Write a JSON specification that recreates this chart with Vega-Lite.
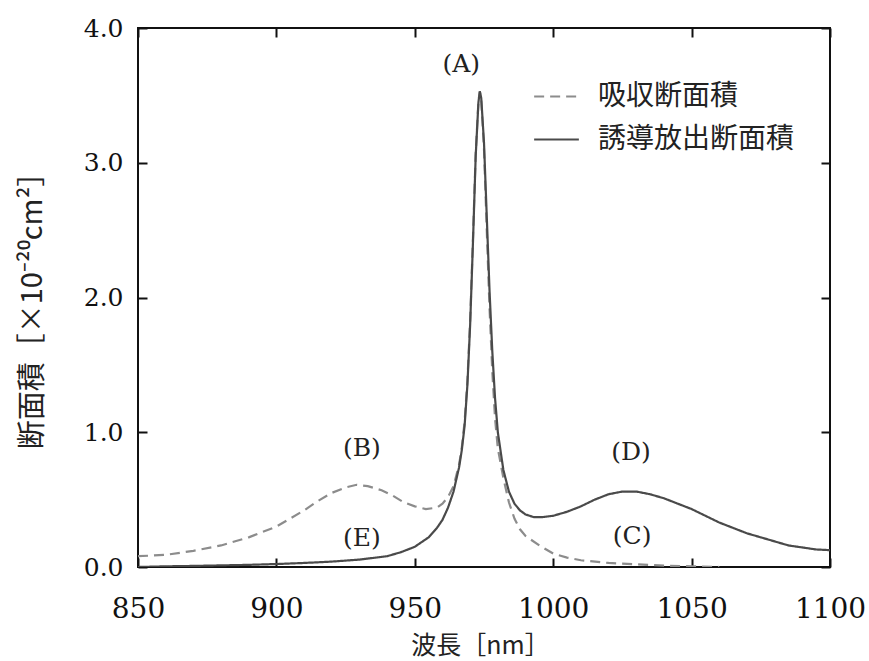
{
  "$schema": "https://vega.github.io/schema/vega-lite/v6.json",
  "width": 692,
  "height": 539,
  "autosize": "none",
  "padding": {"left": 138, "top": 28, "right": 39, "bottom": 94},
  "background": "white",
  "config": {
    "view": {"stroke": "#111", "strokeWidth": 2},
    "axis": {"grid": false, "domain": false, "tickColor": "#111", "tickWidth": 2, "tickSize": -9, "labelColor": "#111", "labelFont": "DejaVu Serif", "labelFlush": false, "labelOverlap": false, "titleFont": "Noto Sans CJK JP", "titleFontWeight": "normal", "titleColor": "#222"}
  },
  "datasets": {
    "curves": [
      {"wl": 850, "v": 0.08, "s": "吸収断面積"},
      {"wl": 860, "v": 0.09, "s": "吸収断面積"},
      {"wl": 870, "v": 0.12, "s": "吸収断面積"},
      {"wl": 880, "v": 0.16, "s": "吸収断面積"},
      {"wl": 890, "v": 0.22, "s": "吸収断面積"},
      {"wl": 900, "v": 0.30, "s": "吸収断面積"},
      {"wl": 910, "v": 0.42, "s": "吸収断面積"},
      {"wl": 915, "v": 0.49, "s": "吸収断面積"},
      {"wl": 920, "v": 0.55, "s": "吸収断面積"},
      {"wl": 925, "v": 0.59, "s": "吸収断面積"},
      {"wl": 929, "v": 0.61, "s": "吸収断面積"},
      {"wl": 933, "v": 0.60, "s": "吸収断面積"},
      {"wl": 938, "v": 0.57, "s": "吸収断面積"},
      {"wl": 942, "v": 0.53, "s": "吸収断面積"},
      {"wl": 946, "v": 0.48, "s": "吸収断面積"},
      {"wl": 950, "v": 0.45, "s": "吸収断面積"},
      {"wl": 954, "v": 0.43, "s": "吸収断面積"},
      {"wl": 958, "v": 0.44, "s": "吸収断面積"},
      {"wl": 960, "v": 0.47, "s": "吸収断面積"},
      {"wl": 962, "v": 0.52, "s": "吸収断面積"},
      {"wl": 964, "v": 0.60, "s": "吸収断面積"},
      {"wl": 966, "v": 0.76, "s": "吸収断面積"},
      {"wl": 967, "v": 0.89, "s": "吸収断面積"},
      {"wl": 968, "v": 1.08, "s": "吸収断面積"},
      {"wl": 969, "v": 1.38, "s": "吸収断面積"},
      {"wl": 970, "v": 1.83, "s": "吸収断面積"},
      {"wl": 971, "v": 2.43, "s": "吸収断面積"},
      {"wl": 972, "v": 3.07, "s": "吸収断面積"},
      {"wl": 973, "v": 3.46, "s": "吸収断面積"},
      {"wl": 973.5, "v": 3.53, "s": "吸収断面積"},
      {"wl": 974, "v": 3.47, "s": "吸収断面積"},
      {"wl": 975, "v": 3.10, "s": "吸収断面積"},
      {"wl": 976, "v": 2.50, "s": "吸収断面積"},
      {"wl": 977, "v": 1.92, "s": "吸収断面積"},
      {"wl": 978, "v": 1.45, "s": "吸収断面積"},
      {"wl": 979, "v": 1.10, "s": "吸収断面積"},
      {"wl": 980, "v": 0.88, "s": "吸収断面積"},
      {"wl": 982, "v": 0.66, "s": "吸収断面積"},
      {"wl": 984, "v": 0.48, "s": "吸収断面積"},
      {"wl": 986, "v": 0.36, "s": "吸収断面積"},
      {"wl": 988, "v": 0.28, "s": "吸収断面積"},
      {"wl": 990, "v": 0.23, "s": "吸収断面積"},
      {"wl": 995, "v": 0.16, "s": "吸収断面積"},
      {"wl": 1000, "v": 0.10, "s": "吸収断面積"},
      {"wl": 1005, "v": 0.07, "s": "吸収断面積"},
      {"wl": 1010, "v": 0.05, "s": "吸収断面積"},
      {"wl": 1020, "v": 0.03, "s": "吸収断面積"},
      {"wl": 1030, "v": 0.02, "s": "吸収断面積"},
      {"wl": 1040, "v": 0.01, "s": "吸収断面積"},
      {"wl": 1050, "v": 0.005, "s": "吸収断面積"},
      {"wl": 1060, "v": 0.0, "s": "吸収断面積"},
      {"wl": 850, "v": 0.0, "s": "誘導放出断面積"},
      {"wl": 860, "v": 0.005, "s": "誘導放出断面積"},
      {"wl": 870, "v": 0.008, "s": "誘導放出断面積"},
      {"wl": 880, "v": 0.012, "s": "誘導放出断面積"},
      {"wl": 890, "v": 0.016, "s": "誘導放出断面積"},
      {"wl": 900, "v": 0.022, "s": "誘導放出断面積"},
      {"wl": 910, "v": 0.03, "s": "誘導放出断面積"},
      {"wl": 920, "v": 0.04, "s": "誘導放出断面積"},
      {"wl": 930, "v": 0.055, "s": "誘導放出断面積"},
      {"wl": 940, "v": 0.08, "s": "誘導放出断面積"},
      {"wl": 945, "v": 0.11, "s": "誘導放出断面積"},
      {"wl": 950, "v": 0.15, "s": "誘導放出断面積"},
      {"wl": 955, "v": 0.22, "s": "誘導放出断面積"},
      {"wl": 958, "v": 0.29, "s": "誘導放出断面積"},
      {"wl": 960, "v": 0.35, "s": "誘導放出断面積"},
      {"wl": 962, "v": 0.44, "s": "誘導放出断面積"},
      {"wl": 964, "v": 0.56, "s": "誘導放出断面積"},
      {"wl": 966, "v": 0.74, "s": "誘導放出断面積"},
      {"wl": 967, "v": 0.87, "s": "誘導放出断面積"},
      {"wl": 968, "v": 1.05, "s": "誘導放出断面積"},
      {"wl": 969, "v": 1.35, "s": "誘導放出断面積"},
      {"wl": 970, "v": 1.80, "s": "誘導放出断面積"},
      {"wl": 971, "v": 2.40, "s": "誘導放出断面積"},
      {"wl": 972, "v": 3.05, "s": "誘導放出断面積"},
      {"wl": 973, "v": 3.45, "s": "誘導放出断面積"},
      {"wl": 973.5, "v": 3.53, "s": "誘導放出断面積"},
      {"wl": 974, "v": 3.48, "s": "誘導放出断面積"},
      {"wl": 975, "v": 3.15, "s": "誘導放出断面積"},
      {"wl": 976, "v": 2.60, "s": "誘導放出断面積"},
      {"wl": 977, "v": 2.05, "s": "誘導放出断面積"},
      {"wl": 978, "v": 1.60, "s": "誘導放出断面積"},
      {"wl": 979, "v": 1.25, "s": "誘導放出断面積"},
      {"wl": 980, "v": 1.00, "s": "誘導放出断面積"},
      {"wl": 982, "v": 0.72, "s": "誘導放出断面積"},
      {"wl": 984, "v": 0.56, "s": "誘導放出断面積"},
      {"wl": 986, "v": 0.47, "s": "誘導放出断面積"},
      {"wl": 988, "v": 0.42, "s": "誘導放出断面積"},
      {"wl": 990, "v": 0.39, "s": "誘導放出断面積"},
      {"wl": 993, "v": 0.37, "s": "誘導放出断面積"},
      {"wl": 996, "v": 0.37, "s": "誘導放出断面積"},
      {"wl": 1000, "v": 0.38, "s": "誘導放出断面積"},
      {"wl": 1005, "v": 0.41, "s": "誘導放出断面積"},
      {"wl": 1010, "v": 0.45, "s": "誘導放出断面積"},
      {"wl": 1015, "v": 0.50, "s": "誘導放出断面積"},
      {"wl": 1020, "v": 0.54, "s": "誘導放出断面積"},
      {"wl": 1025, "v": 0.56, "s": "誘導放出断面積"},
      {"wl": 1030, "v": 0.56, "s": "誘導放出断面積"},
      {"wl": 1035, "v": 0.54, "s": "誘導放出断面積"},
      {"wl": 1040, "v": 0.51, "s": "誘導放出断面積"},
      {"wl": 1045, "v": 0.47, "s": "誘導放出断面積"},
      {"wl": 1050, "v": 0.43, "s": "誘導放出断面積"},
      {"wl": 1055, "v": 0.38, "s": "誘導放出断面積"},
      {"wl": 1060, "v": 0.33, "s": "誘導放出断面積"},
      {"wl": 1065, "v": 0.29, "s": "誘導放出断面積"},
      {"wl": 1070, "v": 0.25, "s": "誘導放出断面積"},
      {"wl": 1075, "v": 0.22, "s": "誘導放出断面積"},
      {"wl": 1080, "v": 0.19, "s": "誘導放出断面積"},
      {"wl": 1085, "v": 0.16, "s": "誘導放出断面積"},
      {"wl": 1090, "v": 0.145, "s": "誘導放出断面積"},
      {"wl": 1095, "v": 0.13, "s": "誘導放出断面積"},
      {"wl": 1100, "v": 0.125, "s": "誘導放出断面積"}
    ],
    "labels": [
      {"wl": 966.8, "v": 3.73, "t": "(A)"},
      {"wl": 930.9, "v": 0.88, "t": "(B)"},
      {"wl": 930.9, "v": 0.215, "t": "(E)"},
      {"wl": 1028.1, "v": 0.85, "t": "(D)"},
      {"wl": 1028.5, "v": 0.23, "t": "(C)"}
    ]
  },
  "layer": [
    {
      "data": {"name": "curves"},
      "mark": {"type": "line", "strokeWidth": 2.2, "clip": true},
      "encoding": {
        "x": {"field": "wl", "type": "quantitative", "scale": {"domain": [850, 1100], "nice": false, "zero": false},
          "axis": {"orient": "bottom", "values": [850, 900, 950, 1000, 1050, 1100], "format": "d", "labelFontSize": 28, "labelPadding": 37, "title": "波長［nm］", "titleFontSize": 25, "titleX": 342, "titleY": 78, "titleBaseline": "middle"}},
        "y": {"field": "v", "type": "quantitative", "scale": {"domain": [0, 4], "nice": false},
          "axis": {"orient": "left", "values": [0, 1, 2, 3, 4], "format": ".1f", "labelFontSize": 25, "labelPadding": 24, "title": "断面積［×10⁻²⁰cm²］", "titleFontSize": 29, "titleX": -106, "titleY": 275, "titleAngle": -90, "titleAlign": "center", "titleBaseline": "middle"}},
        "color": {"field": "s", "type": "nominal", "scale": {"domain": ["吸収断面積", "誘導放出断面積"], "range": ["#8c8c8c", "#4a4a4a"]},
          "legend": {"title": null, "orient": "none", "legendX": 395, "legendY": 45, "symbolType": "stroke", "symbolSize": 2000, "symbolStrokeWidth": 2.2, "labelFont": "Noto Sans CJK JP", "labelFontSize": 28, "labelColor": "#222", "labelOffset": 18, "labelLimit": 400, "rowPadding": 5}},
        "strokeDash": {"field": "s", "type": "nominal", "scale": {"domain": ["吸収断面積", "誘導放出断面積"], "range": [[10, 6], [1, 0]]}, "legend": null}
      }
    },
    {
      "data": {"name": "labels"},
      "mark": {"type": "text", "font": "DejaVu Serif", "fontSize": 25, "color": "#222", "baseline": "middle", "align": "center"},
      "encoding": {
        "x": {"field": "wl", "type": "quantitative", "axis": {"orient": "top", "values": [850, 900, 950, 1000, 1050, 1100], "labels": false, "title": null}},
        "y": {"field": "v", "type": "quantitative", "axis": {"orient": "right", "values": [0, 1, 2, 3, 4], "labels": false, "title": null}},
        "text": {"field": "t", "type": "nominal"}
      }
    }
  ],
  "resolve": {"axis": {"x": "independent", "y": "independent"}}
}
